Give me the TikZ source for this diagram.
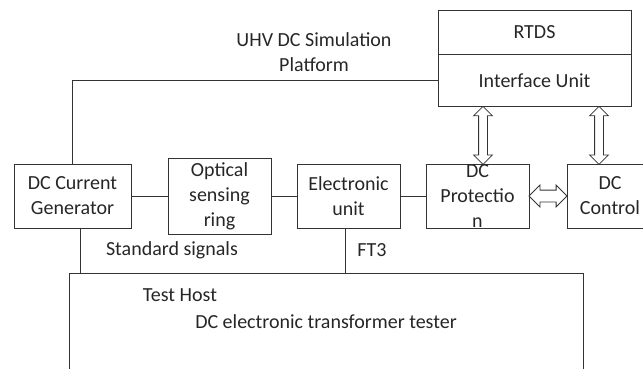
\documentclass[tikz,border=0pt]{standalone}
\usepackage{fontspec}
\setmainfont{Carlito}
\usetikzlibrary{positioning,shapes.arrows,calc}

\tikzset{
  box/.style={draw, line width=0.8pt, minimum width=103pt, minimum height=64pt, inner sep=0pt, align=center},
  dblarrow/.style={draw, double arrow, line width=0.8pt, inner xsep=0pt, inner ysep=4pt, double arrow head extend=5pt},
}

\begin{document}
\begin{tikzpicture}[x=1pt, y=-1pt, line width=0.8pt, draw=black!80,
    every node/.style={font=\fontsize{20}{25}\selectfont, text=black!85}]
  \useasboundingbox (0,0) rectangle (643,368);
  % simulation platform
  \node[box, minimum width=193pt, minimum height=44pt] (rtds) at (534.5,32) {RTDS};
  \node[box, minimum width=193pt, minimum height=52pt, below=0pt of rtds] (iface) {Interface Unit};
  \node[align=center] (title) at (314,52) {UHV DC Simulation\\Platform};
  % measuring chain
  \node[box, minimum width=117pt] (gen) at (72.5,196) {DC Current\\Generator};
  \node[box, minimum height=76pt] (opt) at (219.5,196) {Optical\\sensing\\ring};
  \node[box] (elec) at (348.5,196) {Electronic\\unit};
  \node[box] (prot) at (477.5,196) {};
  \node[align=center] (protlbl) at (prot) {DC\\Protectio\\n};
  \node[box, minimum width=86pt] (ctrl) at (610,196) {DC\\Control};
  % tester
  \node[draw, minimum width=514pt, minimum height=140pt, inner sep=0pt] (host) at (326,343) {};
  \node (th) at (180,295) {Test Host};
  \node (tester) at (326,322) {DC electronic transformer tester};
  \node (std) at (172,250) {Standard signals};
  \node (ft3) at (372,250) {FT3};

  \draw (gen.north) |- (iface.west);
  \draw (gen.east) -- (opt.west) (opt.east) -- (elec.west) (elec.east) -- (prot.west);
  \draw ([xshift=8pt]gen.south) -- ([xshift=8pt]gen.south |- host.north);
  \draw ([xshift=-3pt]elec.south) -- ([xshift=-3pt]elec.south |- host.north);

  \node[dblarrow, rotate=90, minimum height=58pt] (a1) at ($(prot.north)!.5!(prot.north |- iface.south)+(5.5,0)$) {};
  \node[dblarrow, rotate=90, minimum height=58pt] (a2) at ($(ctrl.north)!.5!(ctrl.north |- iface.south)+(-11,0)$) {};
  \node[dblarrow, inner ysep=5.5pt, minimum height=38pt] (a3) at ($(prot.east)!.5!(ctrl.west)$) {};
\end{tikzpicture}
\end{document}
